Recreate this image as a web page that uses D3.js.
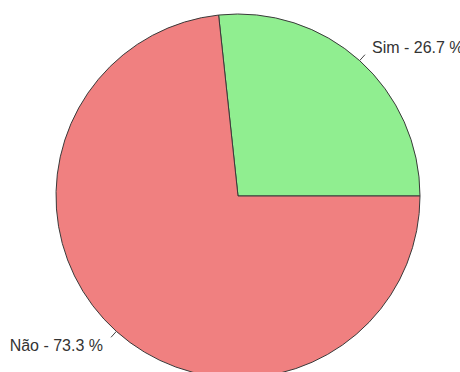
<!DOCTYPE html>
<html><head><meta charset="utf-8">
<script src="https://cdn.jsdelivr.net/npm/d3@7"></script>
<style>html,body{margin:0;padding:0;background:#fff;overflow:hidden}</style>
</head><body>
<script>
const categories = ["Sim", "Não"];
const values = [26.7, 73.3];
const colors = ["#90ee90", "#f08080"];

const W = 460, H = 372;
const cx = 238, cy = 196, R = 182;
const svg = d3.select("body").append("svg").attr("width", W).attr("height", H);
const g = svg.append("g").attr("transform", `translate(${cx},${cy})`);

// start at 3 o'clock going counter-clockwise
const pie = d3.pie().sort(null).value(d => d)
  .startAngle(Math.PI / 2).endAngle(Math.PI / 2 - 2 * Math.PI);
const arcs = pie(values);
const arc = d3.arc().innerRadius(0).outerRadius(R);

g.selectAll("path.slice").data(arcs).enter().append("path")
  .attr("class", "slice")
  .attr("d", arc)
  .attr("fill", (d, i) => colors[i])
  .attr("stroke", "#3a3a3a")
  .attr("stroke-width", 1)
  .attr("stroke-linejoin", "miter");

const fmt = d3.format(".1f");
arcs.forEach((d, i) => {
  const a = (d.startAngle + d.endAngle) / 2;
  const sx = Math.sin(a) * R, sy = -Math.cos(a) * R;
  const ex = Math.sin(a) * (R + 8), ey = -Math.cos(a) * (R + 8);
  g.append("line").attr("x1", sx).attr("y1", sy).attr("x2", ex).attr("y2", ey)
    .attr("stroke", "#444").attr("stroke-width", 1);
  const right = sx > 0;
  g.append("text")
    .attr("x", right ? ex + 7 : ex - 8)
    .attr("y", right ? ey - 2 : ey + 14)
    .attr("text-anchor", right ? "start" : "end")
    .attr("font-family", "Liberation Sans, Arial, sans-serif")
    .attr("font-size", 16)
    .attr("fill", "#333")
    .text(`${categories[i]} - ${fmt(values[i])} %`);
});
</script>
</body></html>
